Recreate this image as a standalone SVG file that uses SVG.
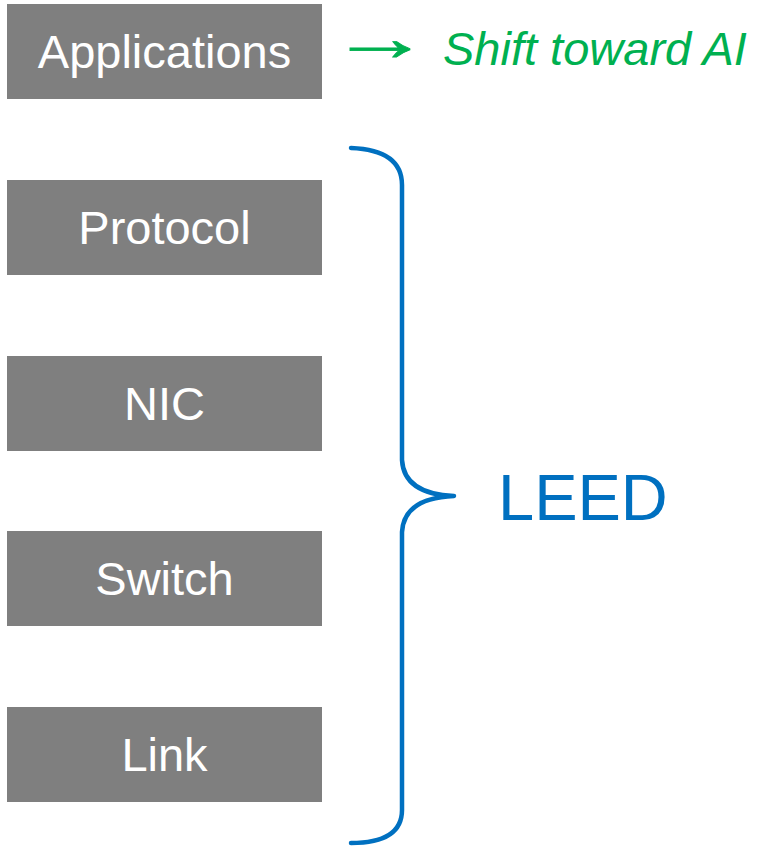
<svg xmlns="http://www.w3.org/2000/svg" width="758" height="846" viewBox="0 0 758 846">
  <style>
    .box { fill: #7f7f7f; }
    .label { font-family: "Liberation Sans", Arial, sans-serif; font-size: 47px; fill: #ffffff; text-anchor: middle; }
    .note { font-family: "Liberation Sans", Arial, sans-serif; font-size: 47px; fill: #00b050; }
    .brace { fill: none; stroke: #0070c0; stroke-width: 4.5; stroke-linecap: round; stroke-linejoin: round; }
    .leed { font-family: "Liberation Sans", Arial, sans-serif; font-size: 65px; fill: #0070c0; }
  </style>

  <g id="applications">
    <rect class="box" x="7" y="4" width="315" height="95"/>
    <text class="label" x="164.5" y="68">Applications</text>
  </g>
  <g id="protocol">
    <rect class="box" x="7" y="180" width="315" height="95"/>
    <text class="label" x="164.5" y="244">Protocol</text>
  </g>
  <g id="nic">
    <rect class="box" x="7" y="356" width="315" height="95"/>
    <text class="label" x="164.5" y="420">NIC</text>
  </g>
  <g id="switch">
    <rect class="box" x="7" y="531" width="315" height="95"/>
    <text class="label" x="164.5" y="595">Switch</text>
  </g>
  <g id="link">
    <rect class="box" x="7" y="707" width="315" height="95"/>
    <text class="label" x="164.5" y="771">Link</text>
  </g>

  <g id="shift-note">
    <!-- long arrow: the glyph stretched wider than tall, lightly stroked for weight -->
    <text class="note" transform="translate(330,60) scale(2.14,1.4)" x="0" y="0" stroke="#00b050" stroke-width="0.6">→</text>
    <text class="note" x="443" y="65" font-style="italic">Shift toward AI</text>
  </g>

  <g id="connectors">
    <path class="brace" d="M351,148 Q402,150 402,185 L402,460 Q404,494 454,496 Q404,498 402,532 L402,810 Q402,843 351,843"/>
  </g>

  <g id="leed">
    <text class="leed" x="498" y="520">LEED</text>
  </g>
</svg>
